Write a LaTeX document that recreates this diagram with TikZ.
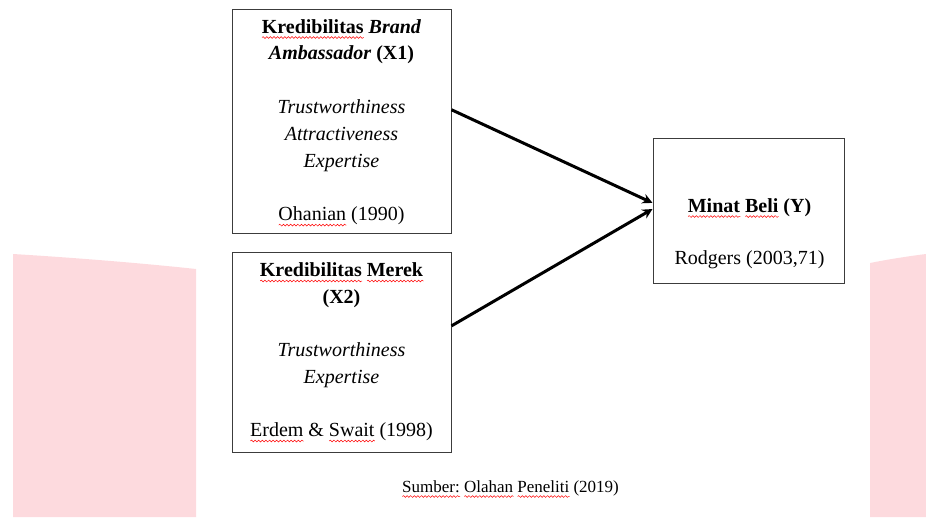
\documentclass[tikz,border=0pt]{standalone}
\usepackage{fontspec}
\setmainfont{Liberation Serif}
\usetikzlibrary{arrows.meta,calc,decorations.pathmorphing}
\definecolor{pinkbg}{RGB}{253,218,222}
\definecolor{boxline}{RGB}{60,60,60}
\newsavebox\sqbox
\newcommand\redsq[1]{\sbox\sqbox{#1}\leavevmode\rlap{\tikz[baseline=0pt,x=1pt,y=1pt]\draw[red,line width=0.5pt,decorate,decoration={snake,amplitude=0.9pt,segment length=3.6pt}] (0pt,-4.5pt) -- (\wd\sqbox,-4.5pt);}\usebox\sqbox}
\begin{document}
\begin{tikzpicture}[x=1pt,y=-1pt,
  box/.style={draw=boxline,line width=1pt,fill=white,inner sep=0pt},
  lbl/.style={anchor=base,inner sep=0pt,font=\fontsize{20}{27}\selectfont},
  src/.style={anchor=base,inner sep=0pt,font=\fontsize{17}{20}\selectfont},
  arr/.style={line width=3pt,-{Stealth[length=10pt,width=10pt]}}]
\useasboundingbox (0,0) rectangle (926,517);
% background watermark shapes
\fill[pinkbg] (13,254) .. controls (80,258) and (150,264) .. (196,269) -- (196,517) -- (13,517) -- cycle;
\fill[pinkbg] (870,263) .. controls (890,259) and (910,256) .. (926,254) -- (926,517) -- (870,517) -- cycle;
% boxes
\node[box,minimum width=219pt,minimum height=224pt] (x1) at (341.5,121) {};
\node[box,minimum width=219pt,minimum height=200pt] (x2) at (341.5,352) {};
\node[box,minimum width=191pt,minimum height=145pt] (y) at (748.5,210.5) {};
% X1 texts
\node[lbl] (x1a) at (341.5,33) {\textbf{\redsq{Kredibilitas} \textit{Brand}}};
\node[lbl] (x1b) at (341.5,59.8) {\textbf{\textit{Ambassador} (X1)}};
\node[lbl] (x1c) at (341.5,113.4) {\textit{Trustworthiness}};
\node[lbl] (x1d) at (341.5,140.2) {\textit{Attractiveness}};
\node[lbl] (x1e) at (341.5,167) {\textit{Expertise}};
\node[lbl] (x1f) at (341.5,220.6) {\redsq{Ohanian} (1990)};
% X2 texts
\node[lbl] (x2a) at (341.5,276.5) {\textbf{\redsq{Kredibilitas} \redsq{Merek}}};
\node[lbl] (x2b) at (341.5,303.3) {\textbf{(X2)}};
\node[lbl] (x2c) at (341.5,356.9) {\textit{Trustworthiness}};
\node[lbl] (x2d) at (341.5,383.7) {\textit{Expertise}};
\node[lbl] (x2e) at (341.5,436.5) {\redsq{Erdem} \& \redsq{Swait} (1998)};
% Y texts
\node[lbl] (ya) at (749.5,212) {\textbf{\redsq{Minat} \redsq{Beli} (Y)}};
\node[lbl] (yb) at (749.5,264) {Rodgers (2003,71)};
% source
\node[src] (s) at (510.5,492) {\redsq{Sumber:} \redsq{Olahan} \redsq{Peneliti} (2019)};
% arrows
\draw[arr] ($(x1.north east)!0.45!(x1.south east)$) -- ($(y.north west)!0.448!(y.south west)$);
\draw[arr] ($(x2.north east)!0.37!(x2.south east)$) -- ($(y.north west)!0.49!(y.south west)$);
\end{tikzpicture}
\end{document}
